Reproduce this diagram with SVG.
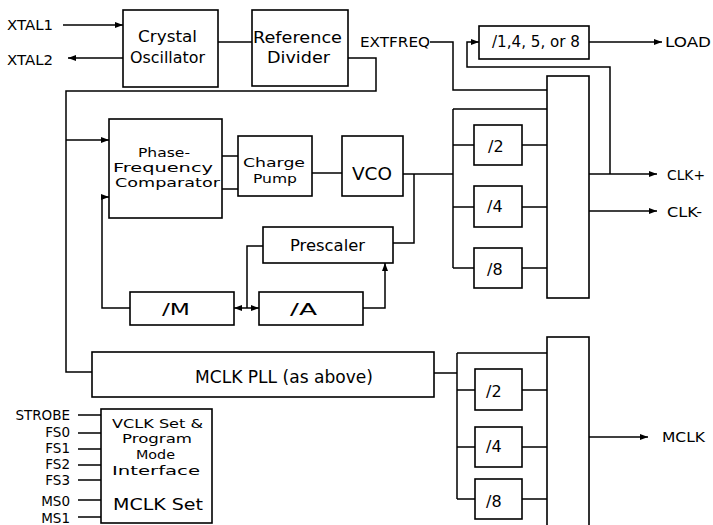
<svg xmlns="http://www.w3.org/2000/svg" width="713" height="525" viewBox="0 0 713 525">
<style>
.b{fill:#fff;stroke:#000;stroke-width:1.6}
.w{fill:none;stroke:#000;stroke-width:1.5}
text{font-family:"DejaVu Sans","Liberation Sans",sans-serif;font-size:15px;fill:#000}
.s{font-size:14px}
.m{font-size:13px}
.e{text-anchor:end;font-size:13.5px}
</style>
<defs>
<marker id="a" viewBox="0 0 8 6" refX="8" refY="3" markerWidth="8" markerHeight="6" markerUnits="userSpaceOnUse" orient="auto"><path d="M0,0 L8,3 L0,6 Z" fill="#000"/></marker>
<marker id="as" viewBox="0 0 8 6" refX="0" refY="3" markerWidth="8" markerHeight="6" markerUnits="userSpaceOnUse" orient="auto"><path d="M8,0 L0,3 L8,6 Z" fill="#000"/></marker>
</defs>
<rect width="713" height="525" fill="#fff"/>
<g id="connectors">
<path class="w" d="M63,25 H123" marker-end="url(#a)"/>
<path class="w" d="M123,58 H68" marker-end="url(#a)"/>
<path class="w" d="M218,42 H252"/>
<path class="w" d="M348,58 H376 V91 H66 V372 H92"/>
<path class="w" d="M66,140 H109" marker-end="url(#a)"/>
<path class="w" d="M222,156 H238 M222,189 H238"/>
<path class="w" d="M312,173 H342"/>
<path class="w" d="M403,174 H453 M453,109 V268 M453,109 H547 M453,145 H474 M522,145 H547 M453,207 H474 M522,207 H547 M453,268 H474 M522,268 H547"/>
<path class="w" d="M414,174 V243 H393"/>
<path class="w" d="M263,246 H247 V308"/>
<path class="w" d="M234,308 H259" marker-start="url(#as)" marker-end="url(#a)"/>
<path class="w" d="M363,308 H385 V263" marker-end="url(#a)"/>
<path class="w" d="M130,308 H102 V197 H109" marker-end="url(#a)"/>
<path class="w" d="M430,42 H453 V90 H547"/>
<path class="w" d="M610,174 V67 H467 V42 H479" marker-end="url(#a)"/>
<path class="w" d="M589,174 H657" marker-end="url(#a)"/>
<path class="w" d="M589,211 H657" marker-end="url(#a)"/>
<path class="w" d="M589,42 H662" marker-end="url(#a)"/>
<path class="w" d="M434,373 H457 M457,353 V499 M457,353 H547 M457,390 H475 M522,390 H547 M457,447 H475 M522,447 H547 M457,499 H475 M522,499 H547"/>
<path class="w" d="M589,437 H648" marker-end="url(#a)"/>
<path class="w" d="M78,415 H101 M78,433 H101 M78,449 H101 M78,465 H101 M78,480 H101 M78,500 H101 M78,517 H101"/>
</g>
<g id="labels">
<text class="s" x="7" y="30" textLength="46" lengthAdjust="spacingAndGlyphs">XTAL1</text>
<text class="s" x="7" y="65" textLength="46" lengthAdjust="spacingAndGlyphs">XTAL2</text>
<text class="s" x="360" y="47" textLength="70" lengthAdjust="spacingAndGlyphs">EXTFREQ</text>
<text class="s" x="665" y="47" textLength="46" lengthAdjust="spacingAndGlyphs">LOAD</text>
<text class="s" x="667" y="180" textLength="38" lengthAdjust="spacingAndGlyphs">CLK+</text>
<text class="s" x="667" y="217" textLength="35" lengthAdjust="spacingAndGlyphs">CLK-</text>
<text class="s" x="662" y="442" textLength="43" lengthAdjust="spacingAndGlyphs">MCLK</text>
<text class="e" x="70" y="420">STROBE</text>
<text class="e" x="70" y="437">FS0</text>
<text class="e" x="70" y="453">FS1</text>
<text class="e" x="70" y="469">FS2</text>
<text class="e" x="70" y="485">FS3</text>
<text class="e" x="70" y="506">MS0</text>
<text class="e" x="70" y="523">MS1</text>
</g>
<g id="crystal"><rect class="b" x="123" y="10" width="95" height="77"/>
<text x="138" y="42" textLength="59" lengthAdjust="spacingAndGlyphs">Crystal</text>
<text x="130" y="63" textLength="75" lengthAdjust="spacingAndGlyphs">Oscillator</text></g>
<g id="refdiv"><rect class="b" x="252" y="10" width="96" height="76"/>
<text x="253" y="43" textLength="89" lengthAdjust="spacingAndGlyphs">Reference</text>
<text x="267" y="63" textLength="63" lengthAdjust="spacingAndGlyphs">Divider</text></g>
<g id="loaddiv"><rect class="b" x="479" y="26" width="110" height="33"/>
<text x="492" y="47" textLength="88" lengthAdjust="spacingAndGlyphs">/1,4, 5, or 8</text></g>
<g id="pfc"><rect class="b" x="109" y="119" width="113" height="99"/>
<text class="m" x="138" y="157" textLength="52" lengthAdjust="spacingAndGlyphs">Phase-</text>
<text class="m" x="113" y="172" textLength="100" lengthAdjust="spacingAndGlyphs">Frequency</text>
<text class="m" x="115" y="187" textLength="105" lengthAdjust="spacingAndGlyphs">Comparator</text></g>
<g id="cp"><rect class="b" x="238" y="136" width="74" height="60"/>
<text class="m" x="243" y="167" textLength="62" lengthAdjust="spacingAndGlyphs">Charge</text>
<text class="m" x="253" y="183" textLength="44" lengthAdjust="spacingAndGlyphs">Pump</text></g>
<g id="vco"><rect class="b" x="342" y="136" width="61" height="60"/>
<text x="352" y="180" style="font-size:17px" textLength="40" lengthAdjust="spacingAndGlyphs">VCO</text></g>
<g id="prescaler"><rect class="b" x="263" y="227" width="130" height="36"/>
<text x="290" y="251" textLength="75" lengthAdjust="spacingAndGlyphs">Prescaler</text></g>
<g id="divm"><rect class="b" x="130" y="292" width="104" height="33"/>
<text x="162" y="315" style="font-size:16px" textLength="28" lengthAdjust="spacingAndGlyphs">/M</text></g>
<g id="diva"><rect class="b" x="259" y="292" width="104" height="33"/>
<text x="290" y="315" style="font-size:16px" textLength="27" lengthAdjust="spacingAndGlyphs">/A</text></g>
<g id="d2a"><rect class="b" x="474" y="125" width="48" height="40"/><text x="488" y="152" style="font-size:16px">/2</text></g>
<g id="d4a"><rect class="b" x="474" y="186" width="48" height="41"/><text x="487" y="212" style="font-size:16px">/4</text></g>
<g id="d8a"><rect class="b" x="474" y="248" width="48" height="40"/><text x="487" y="275" style="font-size:16px">/8</text></g>
<g id="mux1"><rect class="b" x="547" y="76" width="42" height="222"/></g>
<g id="mclkpll"><rect class="b" x="92" y="352" width="342" height="45"/>
<text x="195" y="383" style="font-size:17px" textLength="178" lengthAdjust="spacingAndGlyphs">MCLK PLL (as above)</text></g>
<g id="d2b"><rect class="b" x="475" y="369" width="47" height="41"/><text x="486" y="397" style="font-size:16px">/2</text></g>
<g id="d4b"><rect class="b" x="475" y="427" width="47" height="40"/><text x="486" y="452" style="font-size:16px">/4</text></g>
<g id="d8b"><rect class="b" x="475" y="479" width="47" height="40"/><text x="486" y="507" style="font-size:16px">/8</text></g>
<g id="mux2"><rect class="b" x="547" y="337" width="42" height="200"/></g>
<g id="vclk"><rect class="b" x="101" y="409" width="111" height="114"/>
<text class="m" x="112" y="428" textLength="91" lengthAdjust="spacingAndGlyphs">VCLK Set &amp;</text>
<text class="m" x="122" y="443" textLength="70" lengthAdjust="spacingAndGlyphs">Program</text>
<text class="m" x="136" y="459" textLength="39" lengthAdjust="spacingAndGlyphs">Mode</text>
<text class="m" x="112" y="475" textLength="88" lengthAdjust="spacingAndGlyphs">Interface</text>
<text x="113" y="510" textLength="90" lengthAdjust="spacingAndGlyphs">MCLK Set</text></g>
</svg>
